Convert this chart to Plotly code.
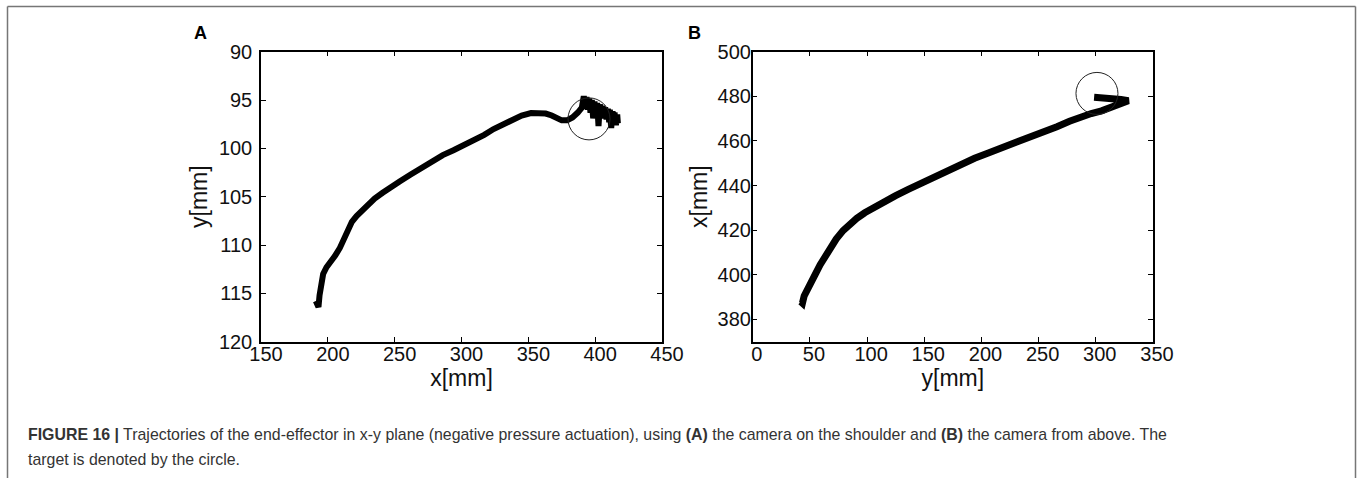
import plotly.graph_objects as go

# ---- Panel A: camera on the shoulder (x vs y, y reversed) ----
xA = [191.0, 193.0, 193.8, 195.0, 196.5, 199.0, 202.5, 205.5, 209.0, 212.0, 215.0, 218.0,
      221.5, 225.0, 230.0, 235.0, 241.0, 247.0, 254.0, 262.0, 270.0, 278.0, 286.0, 294.0,
      302.0, 310.0, 317.0, 324.0, 331.0, 338.0, 345.0, 352.0, 358.0, 363.0, 367.5, 371.0,
      375.0, 379.0, 383.0, 387.0, 390.0,
      391.5, 392.5, 393.5, 394.5, 395.5, 396.5, 397.5, 398.5, 399.5, 400.5, 401.5, 402.5,
      403.5, 404.5, 405.5, 406.5, 407.5, 408.5, 409.5, 410.5, 411.0, 412.0, 413.0, 413.8,
      414.5, 415.5, 416.5, 417.0, 416.0]
yA = [115.8, 116.4, 115.2, 114.0, 113.0, 112.3, 111.7, 111.1, 110.3, 109.3, 108.4, 107.6,
      107.0, 106.5, 105.8, 105.2, 104.6, 104.0, 103.4, 102.7, 102.0, 101.3, 100.7, 100.2,
      99.7, 99.2, 98.6, 98.0, 97.5, 97.0, 96.6, 96.35, 96.3, 96.4, 96.6, 96.9,
      97.1, 97.1, 96.8, 96.3, 95.8,
      94.6, 95.8, 94.7, 96.0, 94.85, 96.3, 95.0, 96.9, 95.15, 96.8, 95.3, 97.7,
      95.45, 96.9, 95.6, 96.9, 95.75, 97.0, 95.9, 97.3, 96.0, 97.9, 96.15, 97.6,
      96.3, 97.6, 96.5, 97.4, 96.9]
targetA_x = [395.4]
targetA_y = [96.95]

# ---- Panel B: camera from above (y horizontal, x vertical) ----
yB = [42.0, 43.5, 45.0, 48.0, 51.5, 55.0, 59.0, 63.5, 68.0, 73.0, 79.0, 85.0, 91.0,
      98.0, 106.0, 115.0, 125.0, 136.0, 147.0, 158.0, 170.0, 182.0, 194.0, 206.0, 218.0,
      230.0, 242.0, 254.0, 266.0, 277.0, 287.0, 296.0, 305.0, 313.0, 320.0, 325.0, 328.5,
      322.0, 314.0, 306.0, 299.0, 298.5]
xB = [388.0, 387.3, 390.5, 394.0, 396.5, 400.5, 404.5, 408.5, 412.5, 416.0, 419.8, 422.8, 425.3,
      427.8, 430.3, 432.8, 435.5, 438.3, 441.0, 443.8, 446.8, 449.6, 452.2, 454.6, 456.8,
      459.0, 461.4, 463.8, 466.4, 468.8, 470.8, 472.3, 473.5, 475.0, 476.4, 477.4, 478.0,
      478.6, 479.1, 479.3, 479.4, 479.6]
targetB_y = [301.0]
targetB_x = [481.3]

A_xticks = [150, 200, 250, 300, 350, 400, 450]
A_yticks = [90, 95, 100, 105, 110, 115, 120]
B_xticks = [0, 50, 100, 150, 200, 250, 300, 350]
B_yticks = [380, 400, 420, 440, 460, 480, 500]

W, H = 1358, 478
FONT = "Arial, Liberation Sans, Helvetica, sans-serif"

fig = go.Figure()
fig.add_trace(go.Scatter(x=xA, y=yA, mode="lines", line=dict(color="black", width=6),
                         xaxis="x", yaxis="y", showlegend=False, hoverinfo="skip"))
fig.add_trace(go.Scatter(x=targetA_x, y=targetA_y, mode="markers",
                         marker=dict(symbol="circle-open", size=42, color="#222",
                                     line=dict(width=1)),
                         xaxis="x", yaxis="y", showlegend=False))
fig.add_trace(go.Scatter(x=yB, y=xB, mode="lines", line=dict(color="black", width=7),
                         xaxis="x2", yaxis="y2", showlegend=False, hoverinfo="skip"))
fig.add_trace(go.Scatter(x=targetB_y, y=targetB_x, mode="markers",
                         marker=dict(symbol="circle-open", size=42, color="#222",
                                     line=dict(width=1)),
                         xaxis="x2", yaxis="y2", showlegend=False))

ax_common = dict(showline=True, linecolor="black", linewidth=1.5, mirror="ticks",
                 ticks="inside", ticklen=5, tickwidth=1, tickcolor="black",
                 showgrid=False, zeroline=False, automargin=False,
                 tickfont=dict(family=FONT, size=20, color="#111"),
                 title_font=dict(family=FONT, size=23, color="#111"))

ytop = 1 - 51.7 / H
ybot = 1 - 341.7 / H

fig.update_layout(
    width=W, height=H, margin=dict(l=0, r=0, t=0, b=0, pad=0, autoexpand=False),
    paper_bgcolor="white", plot_bgcolor="white",
    xaxis=dict(domain=[261 / W, 662 / W], range=[150, 450], tickvals=A_xticks,
               ticklabelstandoff=-6, ticklabelshift=5,
               title=dict(text="x[mm]", standoff=0), anchor="y", **ax_common),
    yaxis=dict(domain=[ybot, ytop], range=[120, 90], tickvals=A_yticks,
               ticklabelstandoff=3,
               title=dict(text="y[mm]", standoff=5), anchor="x", **ax_common),
    xaxis2=dict(domain=[752.7 / W, 1153 / W], range=[0, 350], tickvals=B_xticks,
                ticklabelstandoff=-6, ticklabelshift=4,
                title=dict(text="y[mm]", standoff=0), anchor="y2", **ax_common),
    yaxis2=dict(domain=[ybot, ytop], range=[370, 500], tickvals=B_yticks,
                ticklabelstandoff=-4,
                title=dict(text="x[mm]", standoff=4), anchor="x2", **ax_common),
)

# outer frame (open at bottom)
frame_col = "#767676"
fig.add_shape(type="line", xref="paper", yref="paper", x0=7.5 / W, x1=7.5 / W,
              y0=0, y1=1 - 6.5 / H, line=dict(color=frame_col, width=1.5))
fig.add_shape(type="line", xref="paper", yref="paper", x0=7.5 / W, x1=1355.5 / W,
              y0=1 - 6.5 / H, y1=1 - 6.5 / H, line=dict(color=frame_col, width=1.5))
fig.add_shape(type="line", xref="paper", yref="paper", x0=1355.5 / W, x1=1355.5 / W,
              y0=0, y1=1 - 6.5 / H, line=dict(color=frame_col, width=1.5))

# panel letters
fig.add_annotation(text="<b>A</b>", xref="paper", yref="paper", x=192 / W, y=1 - 33 / H,
                   xanchor="left", yanchor="middle", showarrow=False,
                   font=dict(family=FONT, size=18, color="black"))
fig.add_annotation(text="<b>B</b>", xref="paper", yref="paper", x=686 / W, y=1 - 33 / H,
                   xanchor="left", yanchor="middle", showarrow=False,
                   font=dict(family=FONT, size=18, color="black"))

# caption
cap1 = ("<b>FIGURE 16 |</b> Trajectories of the end-effector in x-y plane (negative pressure "
        "actuation), using <b>(A)</b> the camera on the shoulder and <b>(B)</b> the camera "
        "from above. The")
cap2 = "target is denoted by the circle."
fig.add_annotation(text=cap1, xref="paper", yref="paper", x=26 / W, y=1 - 434 / H,
                   xanchor="left", yanchor="middle", showarrow=False,
                   font=dict(family=FONT, size=15.9, color="#333"))
fig.add_annotation(text=cap2, xref="paper", yref="paper", x=26 / W, y=1 - 459 / H,
                   xanchor="left", yanchor="middle", showarrow=False,
                   font=dict(family=FONT, size=15.9, color="#333"))

fig.write_html(
    "out.html",
    config={"displayModeBar": False},
    post_script="document.body.style.margin='0';document.body.style.overflow='hidden';",
)
